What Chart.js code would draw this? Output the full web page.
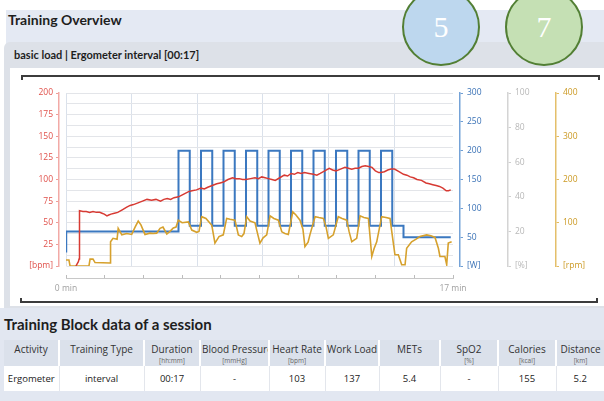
<!DOCTYPE html>
<html>
<head>
<meta charset="utf-8">
<script src="https://cdn.jsdelivr.net/npm/chart.js@4.4.1/dist/chart.umd.min.js"></script>
<style>
  html, body { margin: 0; padding: 0; background: #fff; width: 604px; height: 401px; overflow: hidden; font-family: Lato, 'Open Sans', sans-serif; color: #1e1e1e; }
  .abs { position: absolute; }
  #overviewBand { left: 6px; top: 10px; width: 598px; height: 300px; background: #e4e9f3; }
  #overviewTitle { left: 8px; top: 11px; font-size: 14px; font-weight: bold; }
  #panel { left: 4px; top: 42px; width: 600px; height: 266px; background: #dde1e8; border-top-left-radius: 6px; }
  #panelTitle { left: 14px; top: 48px; font-size: 11px; font-weight: bold; }
  #whiteBox { left: 10px; top: 68px; width: 594px; height: 238px; background: #fff; }
  #bracketTop { left: 21px; top: 75px; width: 575px; height: 3px; border: 2px solid #3c3c3c; border-bottom: none; }
  #bracketBottom { left: 20px; top: 298px; width: 574px; height: 3px; border: 2px solid #3c3c3c; border-top: none; }
  #chart { left: 0; top: 78px; }
  .circle { width: 74px; height: 74px; border-radius: 50%; border: 2px solid #527f34; color: #fff; font-family: 'Liberation Serif', serif; font-size: 30px; line-height: 74px; text-align: center; }
  #c5 { left: 402px; top: -12px; background: #bdd7ee; }
  #c7 { left: 505px; top: -12px; background: #c5e0b4; }
  #blockBand { left: 0; top: 308px; width: 604px; height: 93px; background: #e2e7f1; }
  #blockTitle { left: 4px; top: 315px; font-size: 15px; font-weight: bold; }
  table { position: absolute; left: 4px; top: 340px; width: 600px; border-collapse: collapse; table-layout: fixed; font-family: 'Open Sans', sans-serif; }
  th { background: #dbe1eb; font-weight: normal; font-size: 10px; color: #333; height: 24px; padding: 2px 1px 0 1px; vertical-align: top; border-left: 2px solid #fff; white-space: nowrap; overflow: hidden; line-height: 14px; }
  th span { display: block; font-size: 6.5px; color: #666; line-height: 9px; }
  td { background: #fff; font-size: 9.5px; color: #222; height: 25px; text-align: center; border-left: 1px solid #e3e6ec; padding: 0; }
  th:first-child, td:first-child { border-left: none; }
</style>
</head>
<body>
<div class="abs" id="overviewBand"></div>
<div class="abs" id="overviewTitle">Training Overview</div>
<div class="abs" id="panel"></div>
<div class="abs" id="panelTitle">basic load | Ergometer interval [00:17]</div>
<div class="abs" id="whiteBox"></div>
<div class="abs" id="bracketTop"></div>
<div class="abs" id="bracketBottom"></div>
<canvas class="abs" id="chart" width="604" height="222"></canvas>
<div class="abs circle" id="c5">5</div>
<div class="abs circle" id="c7">7</div>
<div class="abs" id="blockBand"></div>
<div class="abs" id="blockTitle">Training Block data of a session</div>
<table>
  <colgroup>
    <col style="width:55px"><col style="width:85px"><col style="width:56px"><col style="width:69px"><col style="width:56px">
    <col style="width:54px"><col style="width:61px"><col style="width:58px"><col style="width:58px"><col style="width:48px">
  </colgroup>
  <thead><tr id="headRow"></tr></thead>
  <tbody><tr id="dataRow"></tr></tbody>
</table>
<script>
// heart rate [bpm] over time [min]
const minutesHR = [0.44, 0.55, 0.58, 0.6, 0.75, 0.9, 1.05, 1.2, 1.35, 1.5, 1.6, 1.7, 1.82, 1.9, 2.0, 2.15, 2.3, 2.5, 2.7, 2.85,
  3.0, 3.2, 3.4, 3.6, 3.8, 4.0, 4.2, 4.35, 4.5, 4.65, 4.8, 5.0, 5.15, 5.3, 5.45, 5.6, 5.8, 6.0, 6.15, 6.3,
  6.5, 6.7, 6.85, 7.0, 7.2, 7.4, 7.55, 7.7, 7.85, 8.0, 8.2, 8.4, 8.55, 8.7, 8.85, 9.0, 9.15, 9.3, 9.5, 9.7,
  9.85, 10.0, 10.15, 10.3, 10.45, 10.6, 10.8, 11.0, 11.15, 11.3, 11.5, 11.7, 11.85, 12.0, 12.2, 12.4, 12.55, 12.7, 12.85, 13.0,
  13.15, 13.3, 13.45, 13.6, 13.75, 13.9, 14.0, 14.15, 14.3, 14.45, 14.6, 14.8, 15.0, 15.15, 15.3, 15.45, 15.6, 15.8, 16.0, 16.15,
  16.3, 16.45, 16.6, 16.75, 16.9, 17.0, 17.1];
const heartRate = [0, 5, 8, 64, 63, 63, 62, 63, 62, 62, 61, 60, 58, 59, 60, 61, 62, 65, 68, 70,
  71, 73, 75, 77, 76, 77, 75, 77, 78, 77, 79, 80, 82, 84, 86, 87, 88, 90, 89, 91,
  93, 95, 96, 97, 100, 102, 101, 101, 100, 100, 101, 102, 101, 103, 102, 101, 100, 99, 102, 105,
  104, 107, 106, 108, 107, 108, 107, 106, 105, 107, 110, 113, 111, 110, 112, 114, 113, 112, 113, 113,
  115, 116, 115, 114, 110, 108, 108, 109, 111, 112, 112, 109, 106, 105, 103, 102, 100, 99, 96, 95,
  94, 93, 92, 90, 87, 87, 88];

// work load [W], interval steps
const minutesLoad = [0, 0.01, 5, 5.5, 6, 6.5, 7, 7.5, 8, 8.5, 9, 9.5, 10, 10.5, 11, 11.5, 12, 12.5, 13, 13.5, 14, 14.5, 15, 17.1];
const workLoad = [25, 60, 200, 70, 200, 70, 200, 70, 200, 70, 200, 70, 200, 70, 200, 70, 200, 70, 200, 70, 200, 70, 50, 50];

// cadence [rpm]
const minutesRpm = [0, 0.13, 0.18, 1.02, 1.07, 1.2, 1.29, 1.96, 1.98, 2.09, 2.27, 2.32, 2.48, 2.7, 2.92, 3.07, 3.21, 3.33, 3.51, 3.73,
  3.88, 4.03, 4.18, 4.31, 4.48, 4.62, 4.77, 4.89, 4.99, 5.16, 5.44, 5.59, 5.81, 5.91, 6.03, 6.22, 6.48, 6.62, 6.8, 6.99,
  7.14, 7.29, 7.51, 7.66, 7.81, 7.91, 8.03, 8.18, 8.4, 8.49, 8.62, 8.76, 8.92, 9.07, 9.24, 9.44, 9.59, 9.73, 9.88, 10.08,
  10.22, 10.4, 10.53, 10.62, 10.76, 10.84, 11.07, 11.24, 11.44, 11.56, 11.66, 11.88, 12.1, 12.27, 12.48, 12.58, 12.7, 12.92, 13.07, 13.24,
  13.44, 13.51, 13.59, 13.69, 13.81, 14.03, 14.22, 14.4, 14.53, 14.62, 14.77, 14.92, 15.07, 15.14, 15.36, 15.56, 15.73, 16.03, 16.22, 16.4,
  16.55, 16.62, 16.84, 16.92, 16.99, 17.14];
const cadence = [14, 14, 0, 0, 16, 16, 8, 7, 56, 64, 62, 87, 72, 75, 73, 90, 104, 95, 73, 76,
  75, 76, 87, 90, 74, 80, 88, 90, 106, 100, 102, 83, 78, 80, 114, 110, 94, 53, 68, 72,
  110, 108, 106, 72, 68, 75, 114, 104, 100, 80, 53, 65, 72, 116, 110, 106, 79, 75, 73, 125,
  118, 106, 85, 45, 55, 72, 114, 112, 110, 90, 64, 72, 114, 110, 106, 80, 56, 64, 116, 112,
  110, 70, 22, 40, 56, 114, 112, 110, 60, 26, 26, 3, 3, 41, 56, 62, 68, 72, 70, 66,
  41, 22, 22, 3, 53, 56];

const hrTickLabels = ['[bpm]', '25', '50', '75', '100', '125', '150', '175', '200'];
const wattTickLabels = ['[W]', '50', '100', '150', '200', '250', '300'];
const pctTickLabels = ['[%]', '20', '40', '60', '80', '100'];
const rpmTickLabels = ['[rpm]', '100', '200', '300', '400'];
const timeTicks = [0, 1.72, 3.44, 5.16, 6.88, 8.6, 10.32, 12.04, 13.76, 15.48, 17.2];
const timeTickLabels = ['0 min', '', '', '', '', '', '', '', '', '', '17 min'];

const tableHead = [['Activity', ''], ['Training Type', ''], ['Duration', '[hh:mm]'], ['Blood Pressure', '[mmHg]'], ['Heart Rate', '[bpm]'],
  ['Work Load', ''], ['METs', ''], ['SpO2', '[%]'], ['Calories', '[kcal]'], ['Distance', '[km]']];
const tableRow = ['Ergometer', 'interval', '00:17', '-', '103', '137', '5.4', '-', '155', '5.2'];

document.getElementById('headRow').innerHTML = tableHead
  .map(h => `<th>${h[0]}<span>${h[1] || '&nbsp;'}</span></th>`).join('');
document.getElementById('dataRow').innerHTML = tableRow.map(v => `<td>${v}</td>`).join('');

const pts = (xs, ys) => xs.map((x, i) => ({ x: x, y: ys[i] }));
const xMax = 17.2;

Chart.defaults.font.family = "'Open Sans', sans-serif";
Chart.defaults.font.size = 8.5;

const gap = w => ({
  grid: { display: false }, ticks: { display: false }, border: { display: false },
  afterFit: s => { s.width = w; }
});

new Chart(document.getElementById('chart'), {
  type: 'line',
  data: {
    datasets: [
      { label: 'Heart Rate', data: pts(minutesHR, heartRate), yAxisID: 'y', borderColor: '#d73a33', borderWidth: 1.5, pointRadius: 0, tension: 0 },
      { label: 'Cadence', data: pts(minutesRpm, cadence), yAxisID: 'y3', borderColor: '#d6a12d', borderWidth: 1.6, pointRadius: 0, tension: 0 },
      { label: 'Work Load', data: pts(minutesLoad, workLoad), yAxisID: 'y1', borderColor: '#3b78c0', borderWidth: 2, pointRadius: 0, stepped: 'before' }
    ]
  },
  options: {
    responsive: false,
    animation: false,
    layout: { padding: { top: 15, left: 0, right: 0, bottom: 0 } },
    plugins: { legend: { display: false }, tooltip: { enabled: false } },
    scales: {
      x: {
        type: 'linear', position: 'bottom', weight: 0, min: 0, max: xMax,
        ticks: { display: false, stepSize: 17.5 / 6 },
        grid: { color: '#dae1eb', drawTicks: false },
        border: { display: false },
        afterBuildTicks: s => { s.ticks = s.ticks.filter(t => t.value < 17); },
        afterFit: s => { s.height = 12; }
      },
      xt: {
        type: 'linear', position: 'bottom', weight: 1, min: 0, max: xMax,
        afterBuildTicks: s => { s.ticks = timeTicks.map(v => ({ value: v })); },
        ticks: { autoSkip: false, maxRotation: 0, color: '#a0a0a0', padding: 8, callback: (v, i) => timeTickLabels[i] },
        grid: { drawOnChartArea: false, tickLength: -3, tickColor: '#bcbcbc' },
        border: { color: '#c8c8c8', width: 1 },
        afterFit: s => { s.height = 22; }
      },
      yGapL: Object.assign({ position: 'left', weight: 0 }, gap(7)),
      y: {
        position: 'left', weight: 1, min: 0, max: 200,
        ticks: { stepSize: 12.5, autoSkip: false, color: '#e0504a', padding: 3,
          callback: v => (v % 25 === 0 ? hrTickLabels[v / 25] : '') },
        grid: { color: '#e3e5e9', tickLength: 3, tickColor: c => (c.tick && c.tick.value % 25 === 0 ? '#ee9c98' : 'rgba(0,0,0,0)') },
        border: { color: '#f2aaa6', width: 1.5 },
        afterFit: s => { s.width = 59; }
      },
      yGapR: Object.assign({ position: 'right', weight: 0 }, gap(7)),
      y1: {
        position: 'right', weight: 1, min: 0, max: 300,
        ticks: { stepSize: 50, autoSkip: false, color: '#3a72b6', padding: 4, callback: v => wattTickLabels[v / 50] },
        grid: { drawOnChartArea: false, tickLength: 3, tickColor: '#6f9fd5' },
        border: { color: '#75a3d8', width: 1.5 },
        afterFit: s => { s.width = 48; }
      },
      y2: {
        position: 'right', weight: 2, min: 0, max: 100,
        ticks: { stepSize: 20, autoSkip: false, color: '#b8b8b8', padding: 4, callback: v => pctTickLabels[v / 20] },
        grid: { drawOnChartArea: false, tickLength: 3, tickColor: '#cfcfcf' },
        border: { color: '#d4d4d4', width: 1.5 },
        afterFit: s => { s.width = 48; }
      },
      y3: {
        position: 'right', weight: 3, min: 0, max: 400,
        ticks: { stepSize: 100, autoSkip: false, color: '#cc9a24', padding: 4, callback: v => rpmTickLabels[v / 100] },
        grid: { drawOnChartArea: false, tickLength: 3, tickColor: '#e2bb63' },
        border: { color: '#e4bf6a', width: 1.5 },
        afterFit: s => { s.width = 48; }
      }
    }
  }
});
</script>
</body>
</html>
